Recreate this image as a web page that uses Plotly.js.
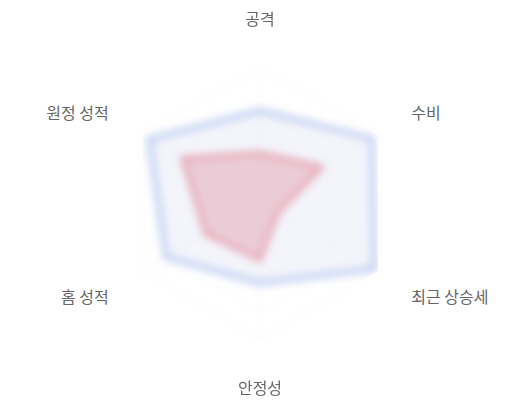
<!DOCTYPE html>
<html>
<head>
<meta charset="utf-8">
<script src="https://cdn.plot.ly/plotly-3.0.1.min.js"></script>
<style>
  html, body { margin: 0; padding: 0; background: #fff; }
  #chart { width: 520px; height: 400px; }
  /* soft look of the reference */
  #chart .polarlayer .frontplot { filter: blur(4px); }
  #chart .polarlayer [class*="grid"],
  #chart .polarlayer .angular-line,
  #chart .polarlayer .radial-line { filter: blur(3px); }
</style>
</head>
<body>
<div id="chart"></div>
<script>
// axes of the radar
const categories = ['공격', '수비', '최근 상승세', '안정성', '홈 성적', '원정 성적'];

// two teams (scale 0-100)
const teamA = [68, 95, 97, 59, 80, 94];
const teamB = [37, 53, 15, 42, 46, 66];

const close = arr => arr.concat(arr[0]);

const data = [
  {
    type: 'scatterpolar',
    r: close(teamA),
    theta: close(categories),
    mode: 'lines',
    fill: 'toself',
    fillcolor: 'rgba(84,112,198,0.07)',
    line: { color: 'rgba(120,150,225,0.5)', width: 5 },
    hoverinfo: 'skip'
  },
  {
    type: 'scatterpolar',
    r: close(teamB),
    theta: close(categories),
    mode: 'lines',
    fill: 'toself',
    fillcolor: 'rgba(215,110,130,0.3)',
    line: { color: 'rgba(220,100,120,0.55)', width: 4 },
    hoverinfo: 'skip'
  }
];

const layout = {
  width: 520,
  height: 400,
  margin: { l: 0, r: 0, t: 0, b: 0 },
  paper_bgcolor: '#fff',
  showlegend: false,
  font: { family: '"Noto Sans CJK KR", "Noto Sans", sans-serif', size: 16, color: '#666' },
  polar: {
    domain: { x: [0.2385, 0.7615], y: [0.1525, 0.8325] },
    bgcolor: 'rgba(0,0,0,0)',
    gridshape: 'linear',
    radialaxis: {
      range: [0, 100],
      showticklabels: false,
      ticks: '',
      showline: false,
      gridcolor: 'rgba(0,0,0,0.03)',
      dtick: 20
    },
    angularaxis: {
      direction: 'clockwise',
      rotation: 90,
      ticks: 'outside',
      ticklen: 35,
      tickcolor: 'rgba(0,0,0,0)',
      linecolor: 'rgba(0,0,0,0.05)',
      gridcolor: 'rgba(0,0,0,0.03)',
      tickfont: { size: 16, color: '#666' }
    }
  }
};

Plotly.newPlot('chart', data, layout, { displayModeBar: false, staticPlot: true });
</script>
</body>
</html>
